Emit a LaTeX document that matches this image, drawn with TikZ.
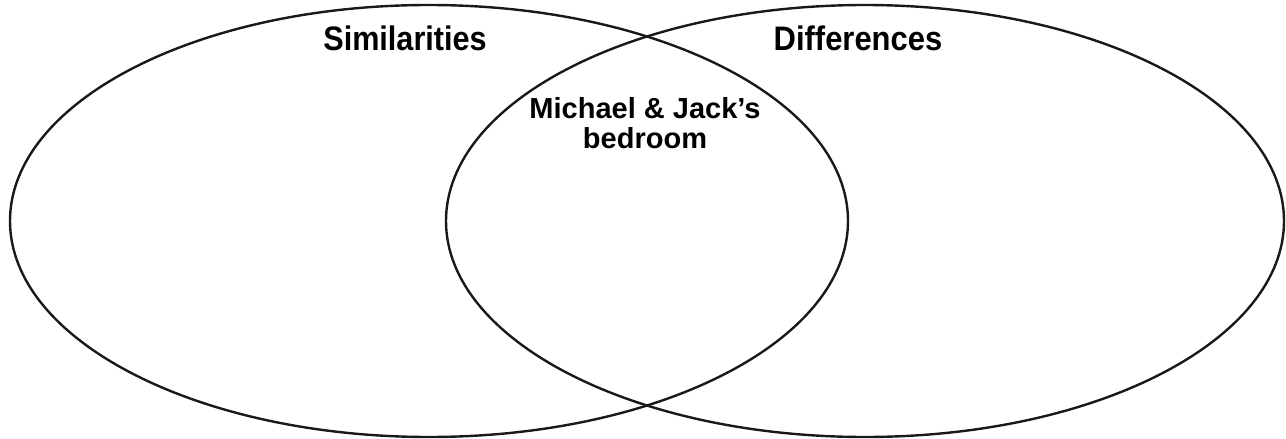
\documentclass[tikz,border=0pt]{standalone}
\usepackage{fontspec}
\setmainfont{Liberation Sans}
\begin{document}
\begin{tikzpicture}[x=1pt,y=-1pt,
  ring/.style={draw=black!90,line width=2.4pt},
  title/.style={font=\bfseries\fontsize{34}{38}\selectfont,anchor=base,inner sep=0pt},
  mid/.style={font=\bfseries\fontsize{29}{30}\selectfont,anchor=base,inner sep=0pt,align=center}]
\useasboundingbox (0,0) rectangle (1286,439);
\draw[ring] (429,221) ellipse [x radius=419, y radius=216];
\draw[ring] (865,221) ellipse [x radius=419, y radius=216];
\node[title] (sim) at (405,50) {\scalebox{0.9}[1]{Similarities}};
\node[title] (dif) at (858,50) {\scalebox{0.91}[1]{Differences}};
\node[mid] (mj) at (645,118) {Michael \& Jack’s};
\node[mid] (bed) at (645,148) {bedroom};
\end{tikzpicture}
\end{document}
